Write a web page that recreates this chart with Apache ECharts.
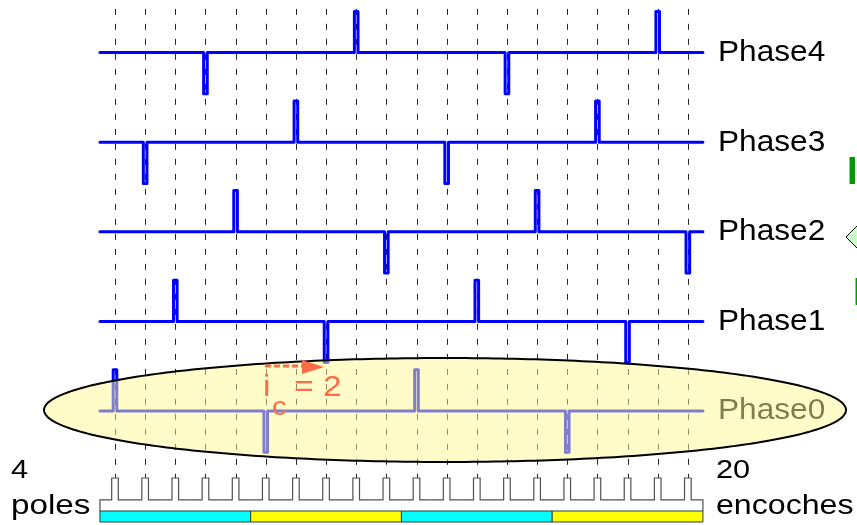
<!DOCTYPE html>
<html><head><meta charset="utf-8">
<script src="https://cdn.jsdelivr.net/npm/echarts@6/dist/echarts.min.js"></script>
<style>html,body{margin:0;padding:0;background:#fff}#c{width:857px;height:525px}</style>
</head><body><div id="c"></div>
<script>
// ---- data ----
const slotIndex = [0,1,2,3,4,5,6,7,8,9,10,11,12,13,14,15,16,17,18,19];
const phaseNames = ['Phase0','Phase1','Phase2','Phase3','Phase4'];
const phaseLevels = [0,1,2,3,4];
const phase0Pulses = [0,5,10,15];  const phase0Signs = [1,-1,1,-1];
const phase1Pulses = [2,7,12,17];  const phase1Signs = [1,-1,1,-1];
const phase2Pulses = [4,9,14,19];  const phase2Signs = [1,-1,1,-1];
const phase3Pulses = [1,6,11,16];  const phase3Signs = [-1,1,-1,1];
const phase4Pulses = [3,8,13,18];  const phase4Signs = [-1,1,-1,1];
const poleStart = [-0.5,4.5,9.5,14.5];
const poleEnd   = [4.5,9.5,14.5,19.5];
const poleCountText = '4';  const poleWord = 'poles';
const slotCountText = '20'; const slotWord = 'encoches';
const annotI = 'i'; const annotSub = 'c'; const annotEq = '= 2';

// ---- build ----
const pulseSets = [[phase0Pulses,phase0Signs],[phase1Pulses,phase1Signs],[phase2Pulses,phase2Signs],[phase3Pulses,phase3Signs],[phase4Pulses,phase4Signs]];
const AMP = 0.46, HW = 0.06, X0 = -0.5, X1 = 19.5;
function buildWave(level, pulses, signs){
  const pts = [[X0, level]];
  pulses.forEach((k,i)=>{
    const h = level + signs[i]*AMP;
    pts.push([k-HW, level],[k-HW, h],[k+HW, h],[k+HW, level]);
  });
  pts.push([X1, level]);
  return pts;
}
const FONT = '"Liberation Sans", Arial, sans-serif';
const Y_TOP = 4.6, TOOTH_TOP = -0.748, COMB_BASE = -0.993, BAR_TOP = -1.116, BAR_BOT = -1.239;
const TW = 0.11;
const poleColors = ['#00ffff','#ffff00','#00ffff','#ffff00'];

const series = [];
series.push({
  type:'custom', z:1, silent:true,
  data: slotIndex.map(k=>[k]),
  renderItem:(params, api)=>{
    const k = api.value(0);
    const a = api.coord([k, Y_TOP]), b = api.coord([k, TOOTH_TOP]);
    return {type:'line', shape:{x1:Math.round(a[0])+0.5,y1:a[1],x2:Math.round(b[0])+0.5,y2:b[1]},
      style:{stroke:'#262626', lineWidth:1, lineDash:[6,9], lineDashOffset:5}};
  }
});
series.push({
  type:'custom', z:1, silent:true,
  data: slotIndex.map(k=>[k]),
  renderItem:(params, api)=>{
    const k = api.value(0);
    const pts = [[k-0.5,COMB_BASE],[k-TW,COMB_BASE],[k-TW,TOOTH_TOP],[k+TW,TOOTH_TOP],[k+TW,COMB_BASE],[k+0.5,COMB_BASE]];
    if (k === slotIndex[0]) pts.unshift([k-0.5, BAR_TOP]);
    if (k === slotIndex[slotIndex.length-1]) pts.push([k+0.5, BAR_TOP]);
    return {type:'polyline', shape:{points: pts.map(p=>api.coord(p))},
      style:{stroke:'#505050', lineWidth:1.2, fill:null}};
  }
});
series.push({
  type:'custom', z:1, silent:true,
  data: poleStart.map((s,i)=>[s, poleEnd[i], i]),
  renderItem:(params, api)=>{
    const a = api.coord([api.value(0), BAR_TOP]), b = api.coord([api.value(1), BAR_BOT]);
    return {type:'rect', shape:{x:a[0], y:a[1], width:b[0]-a[0], height:b[1]-a[1]},
      style:{fill: poleColors[api.value(2)], stroke:'#2b3b3b', lineWidth:1}};
  }
});
phaseLevels.forEach((lv,i)=>{
  series.push({
    type:'line', name: phaseNames[i], z:3, silent:true, animation:false,
    data: buildWave(lv, pulseSets[i][0], pulseSets[i][1]),
    showSymbol:false, symbol:'none',
    lineStyle:{color:'#0000ff', width:3, join:'round', cap:'round'}
  });
});

// ellipse points
const ecx = 445, ecy = 410, erx = 401, ery = 52;
const ellPts = [];
for (let i=0;i<360;i++){ const t=i/360*Math.PI*2; ellPts.push([ecx+erx*Math.cos(t), ecy+ery*Math.sin(t)]); }

function txt(text, x, y, size, sx, fill, z){
  return {type:'text', x:x, y:y, z:z||5, scaleX:sx,
    style:{text:text, fill:fill||'#000', font:size+'px '+FONT, verticalAlign:'middle', textVerticalAlign:'middle'}};
}
const phaseLabelY = [411, 321.5, 232, 143, 53];
const graphics = [];
phaseNames.forEach((n,i)=>{ graphics.push(txt(n, 718, phaseLabelY[i], 29, 1.09)); });
graphics.push(txt(poleCountText, 11, 471, 26, 1.18));
graphics.push(txt(poleWord, 11, 507, 27, 1.23));
graphics.push(txt(slotCountText, 716, 471, 26, 1.18));
graphics.push(txt(slotWord, 716, 507, 27, 1.19));
graphics.push({type:'polygon', z:50, shape:{points: ellPts}, style:{fill:'rgba(255,250,150,0.5)', stroke:'#000', lineWidth:2}});
// annotation
const orange = '#ff6b45';
graphics.push({type:'line', z:60, shape:{x1:265,y1:366,x2:303,y2:366}, style:{stroke:orange, lineWidth:3, lineDash:[6,3]}});
graphics.push({type:'polygon', z:60, shape:{points:[[302,360],[324,367],[302,374]]}, style:{fill:orange}});
graphics.push(txt(annotI, 263, 388, 30, 1.12, orange, 60));
graphics.push(txt(annotSub, 272, 408, 26, 1.12, orange, 60));
graphics.push(txt(annotEq, 294, 388, 30, 1.12, orange, 60));
// cut-off shapes at right edge
graphics.push({type:'text', x:847, y:193, z:5, style:{text:'I', fill:'#009a00', font:'bold 38px '+FONT, textVerticalAlign:'bottom', verticalAlign:'bottom'}});
graphics.push({type:'polygon', z:5, shape:{points:[[846,237],[858,225],[858,249]]}, style:{fill:'#ccffcc', stroke:'#000', lineWidth:1}});
graphics.push({type:'text', x:853, y:314, z:5, style:{text:'I', fill:'#009a00', font:'bold 38px '+FONT, textVerticalAlign:'bottom', verticalAlign:'bottom'}});

const chart = echarts.init(document.getElementById('c'), null, {renderer:'canvas'});
chart.setOption({
  animation:false,
  backgroundColor:'#ffffff',
  grid:{left:0, right:0, top:0, bottom:0},
  xAxis:{type:'value', min:-115/30.15, max:(857-115)/30.15, show:false},
  yAxis:{type:'value', min:-114/89.6, max:411/89.6, show:false},
  series: series,
  graphic: graphics
});
</script></body></html>
